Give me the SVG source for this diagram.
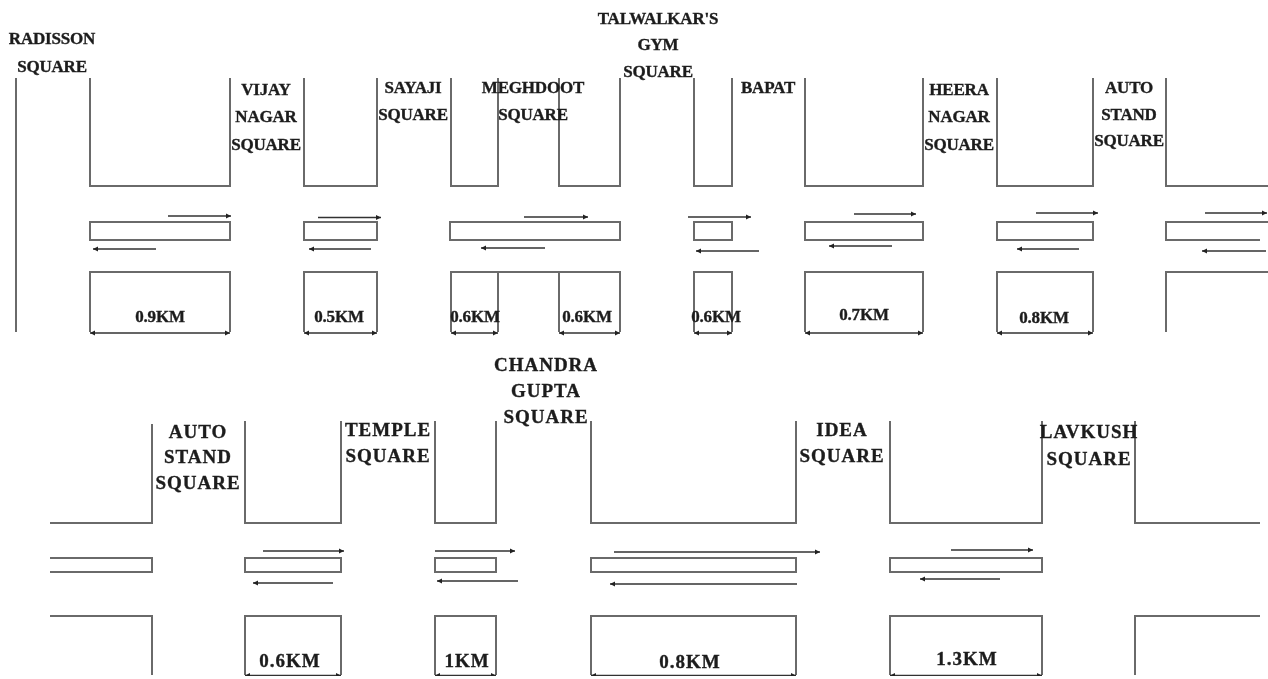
<svg xmlns="http://www.w3.org/2000/svg" width="1268" height="679" viewBox="0 0 1268 679">
<style>
.r{fill:none;stroke:#6a6a6a;stroke-width:2}
.a{fill:none;stroke:#333;stroke-width:1.5;marker-end:url(#h)}
.d{fill:none;stroke:#333;stroke-width:1.7;marker-start:url(#hs);marker-end:url(#h)}
text{font-family:"Liberation Serif","Times New Roman",serif;font-weight:bold;fill:#1c1c1c;stroke:#1c1c1c;stroke-width:0.35;text-anchor:middle}
.t{font-size:17px;letter-spacing:-0.2px}
.b{font-size:19px;letter-spacing:1px}
</style>
<defs>
<marker id="h" markerUnits="userSpaceOnUse" markerWidth="6" markerHeight="6" refX="5" refY="3" orient="auto"><path d="M0 0.5L5 3L0 5.500z" fill="#222"/></marker>
<marker id="hs" markerUnits="userSpaceOnUse" markerWidth="6" markerHeight="6" refX="0" refY="3" orient="auto"><path d="M5 0.5L0 3L5 5.500z" fill="#222"/></marker>
<filter id="s" x="0" y="0" width="100%" height="100%"><feGaussianBlur stdDeviation="0.4"/></filter>
</defs>
<rect width="1268" height="679" fill="#fff"/>
<g filter="url(#s)">
<g id="roads">
<path class="r" d="M16 78V332M90 78V186H230V78M304 78V186H377V78M451 78V186H498V78M559 78V186H620V78M694 78V186H732V78M805 78V186H923V78M997 78V186H1093V78M1166 78V186H1268"/>
<path class="r" d="M90 222H230V240H90ZM304 222H377V240H304ZM450 222H620V240H450ZM694 222H732V240H694ZM805 222H923V240H805ZM997 222H1093V240H997ZM1268 222H1166V240H1260"/>
<path class="r" d="M90 332V272H230V332M304 332V272H377V332M451 332V272H620V332M498 272V332M559 272V332M694 332V272H732V332M805 332V272H923V332M997 332V272H1093V332M1268 272H1166V332"/>
<path class="r" d="M50 523H152V424M245 421V523H341V421M435 421V523H496V421M591 421V523H796V421M890 421V523H1042V421M1135 421V523H1260"/>
<path class="r" d="M50 558H152V572H50M245 558H341V572H245ZM435 558H496V572H435ZM591 558H796V572H591ZM890 558H1042V572H890Z"/>
<path class="r" d="M50 616H152V675M245 675V616H341V675M435 675V616H496V675M591 675V616H796V675M890 675V616H1042V675M1260 616H1135V675"/>
</g>
<g id="connectors">
<path class="a" d="M168 216H231"/><path class="a" d="M318 217.500H381"/><path class="a" d="M524 217H588"/><path class="a" d="M688 217H751"/><path class="a" d="M854 214H916"/><path class="a" d="M1036 213H1098"/><path class="a" d="M1205 213H1267"/>
<path class="a" d="M156 249H93"/><path class="a" d="M371 249H309"/><path class="a" d="M545 248H481"/><path class="a" d="M759 251H696"/><path class="a" d="M892 246H829"/><path class="a" d="M1079 249H1017"/><path class="a" d="M1266 251H1202"/>
<path class="d" d="M90 333H230"/><path class="d" d="M304 333H377"/><path class="d" d="M451 333H498"/><path class="d" d="M559 333H620"/><path class="d" d="M694 333H732"/><path class="d" d="M805 333H923"/><path class="d" d="M997 333H1093"/>
<path class="a" d="M263 551H344"/><path class="a" d="M435 551H515"/><path class="a" d="M614 552H820"/><path class="a" d="M951 550H1033"/>
<path class="a" d="M333 583H253"/><path class="a" d="M518 581H437"/><path class="a" d="M797 584H610"/><path class="a" d="M1000 579H920"/>
<path class="d" d="M245 675.500H341"/><path class="d" d="M435 675.500H496"/><path class="d" d="M591 675.500H796"/><path class="d" d="M890 675.500H1042"/>
</g>
<g id="radisson" class="t"><text x="52" y="44">RADISSON</text><text x="52" y="72">SQUARE</text></g>
<g id="vijay-nagar" class="t"><text x="266" y="95">VIJAY</text><text x="266" y="122">NAGAR</text><text x="266" y="150">SQUARE</text></g>
<g id="sayaji" class="t"><text x="413" y="93">SAYAJI</text><text x="413" y="120">SQUARE</text></g>
<g id="meghdoot" class="t"><text x="533" y="93">MEGHDOOT</text><text x="533" y="120">SQUARE</text></g>
<g id="talwalkars-gym" class="t"><text x="658" y="24">TALWALKAR'S</text><text x="658" y="50">GYM</text><text x="658" y="77">SQUARE</text></g>
<g id="bapat" class="t"><text x="768" y="93">BAPAT</text></g>
<g id="heera-nagar" class="t"><text x="959" y="95">HEERA</text><text x="959" y="122">NAGAR</text><text x="959" y="150">SQUARE</text></g>
<g id="auto-stand-1" class="t"><text x="1129" y="93">AUTO</text><text x="1129" y="120">STAND</text><text x="1129" y="146">SQUARE</text></g>
<g id="distances-1" class="t"><text x="160" y="322">0.9KM</text><text x="339" y="322">0.5KM</text><text x="475" y="322">0.6KM</text><text x="587" y="322">0.6KM</text><text x="716" y="322">0.6KM</text><text x="864" y="320">0.7KM</text><text x="1044" y="323">0.8KM</text></g>
<g id="auto-stand-2" class="b"><text x="198" y="438">AUTO</text><text x="198" y="463">STAND</text><text x="198" y="489">SQUARE</text></g>
<g id="temple" class="b"><text x="388" y="436">TEMPLE</text><text x="388" y="462">SQUARE</text></g>
<g id="chandra-gupta" class="b"><text x="546" y="371">CHANDRA</text><text x="546" y="397">GUPTA</text><text x="546" y="423">SQUARE</text></g>
<g id="idea" class="b"><text x="842" y="436">IDEA</text><text x="842" y="462">SQUARE</text></g>
<g id="lavkush" class="b"><text x="1089" y="438">LAVKUSH</text><text x="1089" y="465">SQUARE</text></g>
<g id="distances-2" class="b"><text x="290" y="667">0.6KM</text><text x="467" y="667">1KM</text><text x="690" y="668">0.8KM</text><text x="967" y="665">1.3KM</text></g>
</g>
</svg>
